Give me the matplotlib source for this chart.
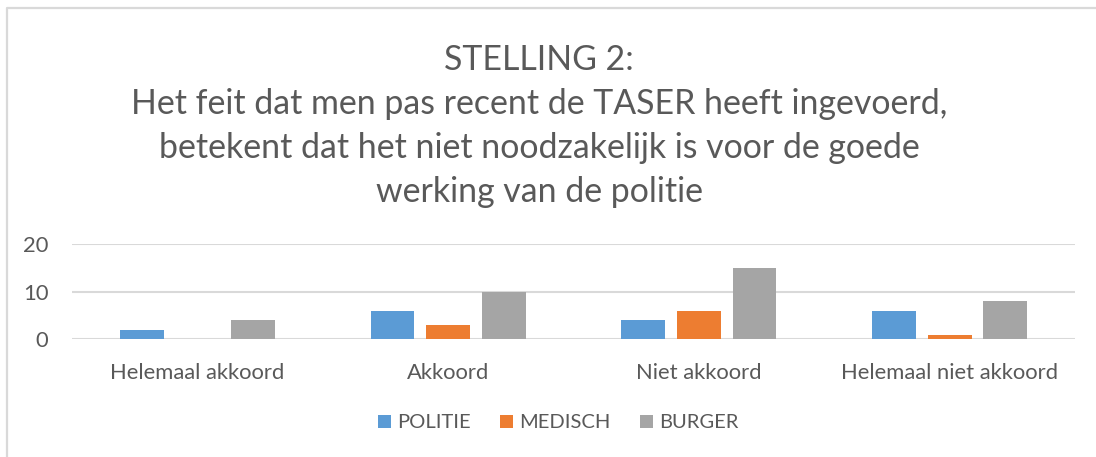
import matplotlib
matplotlib.use("Agg")
import matplotlib.pyplot as plt
import numpy as np
from matplotlib.lines import Line2D

categories = ["Helemaal akkoord", "Akkoord", "Niet akkoord", "Helemaal niet akkoord"]
politie = [2, 6, 4, 6]
medisch = [0, 3, 6, 1]
burger = [4, 10, 15, 8]
series_names = ["POLITIE", "MEDISCH", "BURGER"]
y_ticks = [0, 10, 20]
title_lines = ["STELLING 2:",
               "Het feit dat men pas recent de TASER heeft ingevoerd,",
               "betekent dat het niet noodzakelijk is voor de goede",
               "werking van de politie"]

colors = ["#5B9BD5", "#ED7D31", "#A5A5A5"]
TXT = "#595959"
GRID = "#D9D9D9"
FONT = "Lato"
plt.rcParams["font.family"] = [FONT, "DejaVu Sans"]

W, H = 1096, 457
fig = plt.figure(figsize=(W / 100, H / 100), dpi=100)
fig.patch.set_facecolor("white")
PX = 72 / 100  # points per pixel


def fx(px):
    return px / W


def fy(py):
    return 1 - py / H


# chart border (top + left)
fig.add_artist(Line2D([fx(7), fx(7), fx(1096)], [fy(457), fy(7.5), fy(7.5)],
                      color=GRID, lw=1.6, transform=fig.transFigure))

ax_l, ax_r, ax_t, ax_b = 72, 1075, 244, 339.3
ax = fig.add_axes([fx(ax_l), fy(ax_b), (ax_r - ax_l) / W, (ax_b - ax_t) / H])
ax.set_facecolor("none")

x = np.arange(len(categories))
off = 0.222
bw = 0.175
for i, (vals, name) in enumerate(zip([politie, medisch, burger], series_names)):
    ax.bar(x + (i - 1) * off, vals, width=bw, color=colors[i], label=name, zorder=3)

ax.set_xlim(-0.5, len(categories) - 0.5)
ax.set_ylim(0, 20)
ax.set_yticks(y_ticks)
ax.set_xticks(x)
ax.set_xticklabels(categories)
for s in ax.spines.values():
    s.set_visible(False)
ax.grid(axis="y", color=GRID, lw=1.5, zorder=0)
ax.set_axisbelow(True)
ax.tick_params(axis="both", length=0, colors=TXT)
ax.tick_params(axis="x", pad=17)
ax.tick_params(axis="y", pad=17)

# title lines
baselines = [70, 114, 158, 202]
title_texts = []
for line, b in zip(title_lines, baselines):
    t = fig.text(fx(539), fy(b), line, ha="center", va="baseline", color=TXT, fontsize=22)
    title_texts.append(t)

probe = fig.text(0, 0, series_names[0], fontsize=13)

# fit font sizes to the reference text widths
fig.canvas.draw()
r = fig.canvas.get_renderer()

fs_title = title_texts[1].get_fontsize() * 815 / title_texts[1].get_window_extent(r).width
for t in title_texts:
    t.set_fontsize(fs_title)
lab0 = ax.get_xticklabels()[0]
fs_tick = lab0.get_fontsize() * 175 / lab0.get_window_extent(r).width
ax.tick_params(axis="both", labelsize=fs_tick)
fs_leg = 13 * 73 / probe.get_window_extent(r).width
probe.remove()

fpx = fs_leg / PX  # font size in pixels
handles, labels = ax.get_legend_handles_labels()
leg = fig.legend(handles, labels, loc="center", bbox_to_anchor=(fx(558), fy(423)), ncol=3,
                 frameon=False, fontsize=fs_leg, handlelength=13.5 / fpx, handleheight=13.5 / fpx,
                 handletextpad=6 / fpx, columnspacing=29 / fpx, labelcolor=TXT,
                 borderaxespad=0, borderpad=0)

fig.savefig("out.png", dpi=100, facecolor="white")
